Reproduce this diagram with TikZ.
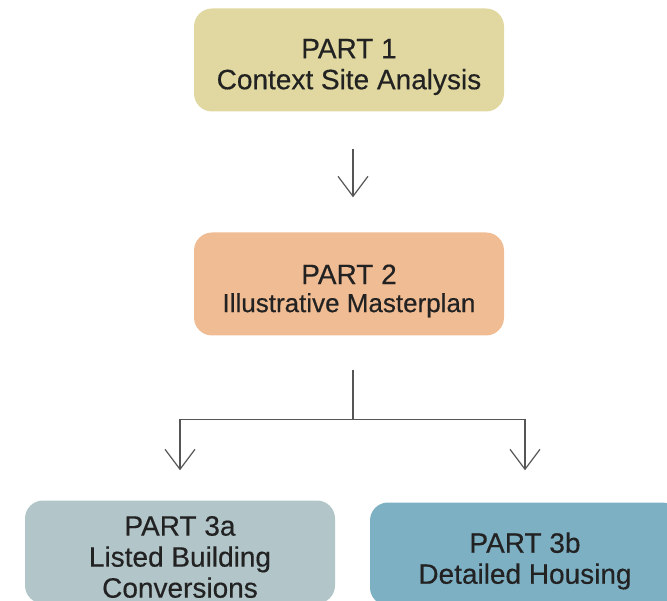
\documentclass[tikz,border=0pt]{standalone}
\usepackage{fontspec}
\setmainfont{Liberation Sans}[FakeBold=0.4]
\usetikzlibrary{arrows.meta, positioning}
\definecolor{partone}{RGB}{224,216,160}
\definecolor{parttwo}{RGB}{240,188,148}
\definecolor{partthreea}{RGB}{178,198,202}
\definecolor{partthreeb}{RGB}{126,176,196}
\definecolor{inkgrey}{RGB}{85,85,85}
\definecolor{textdark}{RGB}{34,34,34}

\begin{document}
\begin{tikzpicture}[x=1pt, y=-1pt,
    partbox/.style={rounded corners=18pt, minimum width=310pt, minimum height=103pt, inner sep=0pt},
    parttext/.style={align=center, text=textdark, inner sep=0pt, font=\fontsize{28}{31}\selectfont},
    link/.style={draw=inkgrey, line width=1.2pt, -{Straight Barb[length=20pt, width=30pt, line width=1.2pt]}},
    stem/.style={draw=inkgrey, line width=1.2pt}]
    \useasboundingbox (0,0) rectangle (667,601);

    % boxes
    \node[partbox, fill=partone] (part1) at (349,60) {};
    \node[partbox, fill=parttwo] (part2) at (349,284) {};
    \node[partbox, fill=partthreea] (part3a) at (180,552) {};
    \node[partbox, fill=partthreeb] (part3b) at (525,554) {};

    % labels
    \node[parttext] (part1-text) at ([yshift=-7pt]part1.center)
        {PART 1\\Context Site Analysis};
    \node[parttext, font=\fontsize{28}{28}\selectfont] (part2-text) at ([yshift=-7pt]part2.center)
        {PART 2\\{\fontsize{26}{28}\selectfont Illustrative Masterplan}};
    \node[parttext] (part3a-text) at ([yshift=-5pt]part3a.center)
        {PART 3a\\Listed Building\\Conversions};
    \node[parttext] (part3b-text) at ([yshift=-7pt]part3b.center)
        {PART 3b\\Detailed Housing};

    % connectors
    \draw[link, shorten <=37pt, shorten >=35pt] ([xshift=4pt]part1.south) -- ([xshift=4pt]part2.north);
    \coordinate (split) at ([xshift=4pt, yshift=-84pt]part2.south);
    \draw[stem] ([xshift=4pt, yshift=-34pt]part2.south) -- (split);
    \draw[link] (split) -| ([yshift=30pt]part3a.north);
    \draw[link] (split) -| ([yshift=32pt]part3b.north);
\end{tikzpicture}
\end{document}
